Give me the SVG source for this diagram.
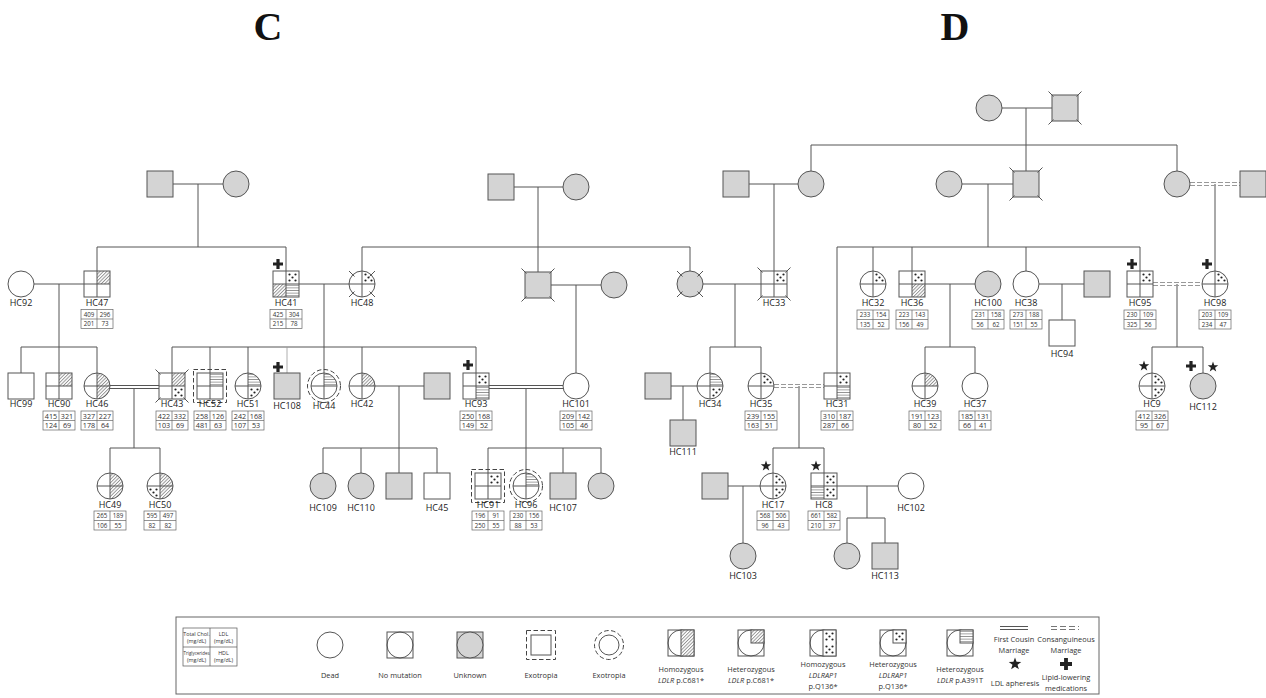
<svg xmlns="http://www.w3.org/2000/svg" xmlns:xlink="http://www.w3.org/1999/xlink" width="1266" height="698" viewBox="0 0 1266 698">
<style>
.w{fill:#fff;stroke:none}
.o{fill:none;stroke:#555;stroke-width:1}
.ln{fill:none;stroke:#555;stroke-width:1}
.gf{fill:#d4d4d4;stroke:#555;stroke-width:1}
.wf{fill:#fff;stroke:#555;stroke-width:1}
.dsh{fill:none;stroke:#444;stroke-width:1;stroke-dasharray:4.5 2.5}
.cons{fill:none;stroke:#999;stroke-width:1;stroke-dasharray:5 2}
.lbl{font-family:"Open Sans","Noto Sans",sans-serif;font-size:9px;fill:#222;text-anchor:middle}
.n1{font-family:"Open Sans","Noto Sans",sans-serif;font-size:6.2px;fill:#333;text-anchor:middle}
.n2{font-family:"Open Sans","Noto Sans",sans-serif;font-size:7.2px;fill:#333;text-anchor:middle}
.lg{font-family:"Open Sans","Noto Sans",sans-serif;font-size:7.4px;fill:#333;text-anchor:middle}
.lt{font-family:"Open Sans","Noto Sans",sans-serif;font-size:5.4px;fill:#333;text-anchor:middle}
.big{font-family:"Liberation Serif","Times New Roman",serif;font-size:40px;font-weight:bold;fill:#111;text-anchor:middle}
.mk{fill:#222}
</style>
<defs>
<pattern id="hatch" patternUnits="userSpaceOnUse" width="2.4" height="2.4" patternTransform="rotate(45)"><line x1="0.5" y1="0" x2="0.5" y2="2.4" stroke="#555" stroke-width="0.6"/></pattern>
<pattern id="dots" patternUnits="userSpaceOnUse" x="0" y="0" width="13" height="13"><g fill="#222"><circle cx="3.5" cy="3.5" r="1.1"/><circle cx="9.5" cy="3.5" r="1.1"/><circle cx="6.5" cy="6.5" r="1.1"/><circle cx="3.5" cy="9.5" r="1.1"/><circle cx="9.5" cy="9.5" r="1.1"/></g></pattern>
<pattern id="hl" patternUnits="userSpaceOnUse" x="0" y="0" width="13" height="2.6"><line x1="0" y1="1.3" x2="13" y2="1.3" stroke="#555" stroke-width="0.6"/></pattern>
<circle id="circ" r="13"/>
<rect id="sq" x="-13" y="-13" width="26" height="26"/>
<path id="c-tr" d="M0,0V-13A13,13 0 0 1 13,0Z"/>
<path id="c-br" d="M0,0H13A13,13 0 0 1 0,13Z"/>
<path id="c-bl" d="M0,0V13A13,13 0 0 1 -13,0Z"/>
<path id="c-rh" d="M0,-13A13,13 0 0 1 0,13Z"/>
<rect id="s-tr" x="0" y="-13" width="13" height="13"/>
<rect id="s-br" x="0" y="0" width="13" height="13"/>
<rect id="s-bl" x="-13" y="0" width="13" height="13"/>
<rect id="s-rh" x="0" y="-13" width="13" height="26"/>
<path id="cross" d="M-13,0H13M0,-13V13"/>
<path id="dead-s" d="M-11.5,-11.5L-16.5,-16.5M11.5,-11.5L16.5,-16.5M-11.5,11.5L-16.5,16.5M11.5,11.5L16.5,16.5"/>
<path id="dead-c" d="M-7.5,-7.5L-13,-13M7.5,-7.5L13,-13M-7.5,7.5L-13,13M7.5,7.5L13,13"/>
<rect id="exo-s" x="-16.5" y="-16.5" width="33" height="33"/>
<circle id="exo-c" r="16.5"/>
<g id="tbl"><rect x="-16" y="0" width="32" height="19" fill="#fff" stroke="#666" stroke-width="0.7"/><path d="M0,0V19M-16,9.5H16" stroke="#666" stroke-width="0.7"/></g>
<path id="plus" d="M-1.6,-5H1.6V-1.6H5V1.6H1.6V5H-1.6V1.6H-5V-1.6H-1.6Z"/>
<path id="star" d="M0,-5.5L1.29,-1.78L5.23,-1.7L2.09,0.68L3.23,4.45L0,2.2L-3.23,4.45L-2.09,0.68L-5.23,-1.7L-1.29,-1.78Z"/>
</defs>
<rect width="1266" height="698" fill="#fff"/>
<text class="big" x="268" y="40">C</text>
<text class="big" x="955" y="40">D</text>

<g id="connectors">
<path class="ln" d="M173,184H223M198,184V247M97,247H286M97,247V271M286,247V271
M34,284H84M59,284V347M21,347H97M21,347V373M59,347V373M97,347V373
M134,388V448M110,448H160M110,448V473M160,448V473
M299,284H349M324,284V347M172,347H476M172,347V373M210,347V373M248,347V373M324,347V373M362,347V373M476,347V373
M375,386H424M399,386V448M323,448H437M323,448V473M361,448V473M399,448V473M437,448V473
M514,187H563M538,187V272M362,247H690M362,247V271M690,247V271
M551,285H601M576,285V373
M526,388V448M488,448H601M488,448V473M526,448V473M563,448V473M601,448V473
M703,284H761M735,284V347M710,347H761M710,347V373M761,347V373
M749,184H798M774,184V271M811,171V145M811,145H1177M1177,145V171
M1002,108H1052M1026,108V171
M962,184H1013M988,184V247M837,247H1140M837,247V373M873,247V271M912,247V271M1026,247V271M1140,247V271
M1215,184V271
M925,284H975M950,284V347M925,347H975M925,347V373M975,347V373
M1039,284H1084M1062,284V320
M1177,284V347M1152,347H1203M1152,347V373M1203,347V373
M671,386H697M683,386V420
M799,386V448M773,448H824M773,448V473M824,448V473
M728,486H760M743,486V543
M837,486H898M867,486V518M847,518H885M847,518V543M885,518V543"/>
<path d="M287,347V373" fill="none" stroke="#999" stroke-width="0.8"/>
<path class="ln" d="M110,385.5H159M110,388.5H159M489,385.5H563M489,388.5H563"/>
<path class="cons" d="M1190,182.5H1240M1190,185.5H1240M1153,282.5H1202M1153,285.5H1202M774,384.5H824M774,387.5H824"/>
</g>

<!-- C family -->
<g id="C-I-1" transform="translate(160,184)"><use href="#sq" class="gf"/></g>
<g id="C-I-2" transform="translate(236,184)"><use href="#circ" class="gf"/></g>
<g id="C-I-3" transform="translate(501,187)"><use href="#sq" class="gf"/></g>
<g id="C-I-4" transform="translate(576,187)"><use href="#circ" class="gf"/></g>

<g id="HC92" transform="translate(21,284)"><use href="#circ" class="wf"/><text class="lbl" y="22">HC92</text></g>
<g id="HC47" transform="translate(97,284)"><use href="#sq" class="w"/><use href="#s-tr" fill="url(#hatch)"/><use href="#cross" class="ln"/><use href="#sq" class="o"/><text class="lbl" y="22">HC47</text>
<use href="#tbl" y="25.5"/><text class="n1" x="-8" y="32.7">409</text><text class="n1" x="8" y="32.7">296</text><text class="n1" x="-8" y="42.2">201</text><text class="n1" x="8" y="42.2">73</text></g>
<g id="HC41" transform="translate(286,284)"><use href="#sq" class="w"/><use href="#s-tr" fill="url(#dots)"/><use href="#s-bl" fill="url(#hatch)"/><use href="#s-br" fill="url(#hl)"/><use href="#cross" class="ln"/><use href="#sq" class="o"/><use href="#plus" class="mk" x="-8" y="-20"/><text class="lbl" y="22">HC41</text>
<use href="#tbl" y="25.5"/><text class="n1" x="-8" y="32.7">425</text><text class="n1" x="8" y="32.7">304</text><text class="n1" x="-8" y="42.2">215</text><text class="n1" x="8" y="42.2">78</text></g>
<g id="HC48" transform="translate(362,284)"><use href="#circ" class="w"/><use href="#c-tr" fill="url(#dots)"/><use href="#cross" class="ln"/><use href="#circ" class="o"/><use href="#dead-c" class="ln"/><text class="lbl" y="22">HC48</text></g>
<g id="C-II-1" transform="translate(538,285)"><use href="#sq" class="gf"/><use href="#dead-s" class="ln"/></g>
<g id="C-II-2" transform="translate(614,285)"><use href="#circ" class="gf"/></g>

<g id="HC99" transform="translate(21,386)"><use href="#sq" class="wf"/><text class="lbl" y="21">HC99</text></g>
<g id="HC90" transform="translate(59,386)"><use href="#sq" class="w"/><use href="#s-tr" fill="url(#hatch)"/><use href="#cross" class="ln"/><use href="#sq" class="o"/><text class="lbl" y="21">HC90</text>
<use href="#tbl" y="25"/><text class="n2" x="-8" y="32.6">415</text><text class="n2" x="8" y="32.6">321</text><text class="n2" x="-8" y="42.1">124</text><text class="n2" x="8" y="42.1">69</text></g>
<g id="HC46" transform="translate(97,386)"><use href="#circ" class="w"/><use href="#c-rh" fill="url(#hatch)"/><use href="#cross" class="ln"/><use href="#circ" class="o"/><text class="lbl" y="21">HC46</text>
<use href="#tbl" y="25"/><text class="n2" x="-8" y="32.6">327</text><text class="n2" x="8" y="32.6">227</text><text class="n2" x="-8" y="42.1">178</text><text class="n2" x="8" y="42.1">64</text></g>
<g id="HC43" transform="translate(172,386)"><use href="#sq" class="w"/><use href="#s-tr" fill="url(#hatch)"/><use href="#s-br" fill="url(#dots)"/><use href="#cross" class="ln"/><use href="#sq" class="o"/><use href="#dead-s" class="ln"/><text class="lbl" y="21">HC43</text>
<use href="#tbl" y="25"/><text class="n2" x="-8" y="32.6">422</text><text class="n2" x="8" y="32.6">332</text><text class="n2" x="-8" y="42.1">103</text><text class="n2" x="8" y="42.1">69</text></g>
<g id="HC52" transform="translate(210,386)"><use href="#sq" class="w"/><use href="#s-tr" fill="url(#hl)"/><use href="#cross" class="ln"/><use href="#sq" class="o"/><use href="#exo-s" class="dsh"/><text class="lbl" y="21">HC52</text>
<use href="#tbl" y="25"/><text class="n2" x="-8" y="32.6">258</text><text class="n2" x="8" y="32.6">126</text><text class="n2" x="-8" y="42.1">481</text><text class="n2" x="8" y="42.1">63</text></g>
<g id="HC51" transform="translate(248,386)"><use href="#circ" class="w"/><use href="#c-tr" fill="url(#hl)"/><use href="#c-br" fill="url(#dots)"/><use href="#cross" class="ln"/><use href="#circ" class="o"/><text class="lbl" y="21">HC51</text>
<use href="#tbl" y="25"/><text class="n2" x="-8" y="32.6">242</text><text class="n2" x="8" y="32.6">168</text><text class="n2" x="-8" y="42.1">107</text><text class="n2" x="8" y="42.1">53</text></g>
<g id="HC108" transform="translate(287,386)"><use href="#sq" class="gf"/><use href="#plus" class="mk" x="-9" y="-19"/><text class="lbl" y="23">HC108</text></g>
<g id="HC44" transform="translate(324,386)"><use href="#circ" class="w"/><use href="#c-tr" fill="url(#hl)"/><use href="#cross" class="ln"/><use href="#circ" class="o"/><use href="#exo-c" class="dsh"/><text class="lbl" y="23">HC44</text></g>
<g id="HC42" transform="translate(362,386)"><use href="#circ" class="w"/><use href="#c-tr" fill="url(#hatch)"/><use href="#cross" class="ln"/><use href="#circ" class="o"/><text class="lbl" y="21">HC42</text></g>
<g id="C-III-1" transform="translate(437,386)"><use href="#sq" class="gf"/></g>
<g id="HC93" transform="translate(476,386)"><use href="#sq" class="w"/><use href="#s-tr" fill="url(#dots)"/><use href="#s-br" fill="url(#hl)"/><use href="#cross" class="ln"/><use href="#sq" class="o"/><use href="#plus" class="mk" x="-8" y="-21"/><text class="lbl" y="21">HC93</text>
<use href="#tbl" y="25"/><text class="n2" x="-8" y="32.6">250</text><text class="n2" x="8" y="32.6">168</text><text class="n2" x="-8" y="42.1">149</text><text class="n2" x="8" y="42.1">52</text></g>
<g id="HC101" transform="translate(576,386)"><use href="#circ" class="wf"/><text class="lbl" y="21">HC101</text>
<use href="#tbl" y="25"/><text class="n2" x="-8" y="32.6">209</text><text class="n2" x="8" y="32.6">142</text><text class="n2" x="-8" y="42.1">105</text><text class="n2" x="8" y="42.1">46</text></g>

<g id="HC49" transform="translate(110,486)"><use href="#circ" class="w"/><use href="#c-rh" fill="url(#hatch)"/><use href="#cross" class="ln"/><use href="#circ" class="o"/><text class="lbl" y="21.5">HC49</text>
<use href="#tbl" y="25"/><text class="n1" x="-8" y="32.4">265</text><text class="n1" x="8" y="32.4">189</text><text class="n1" x="-8" y="41.9">106</text><text class="n1" x="8" y="41.9">55</text></g>
<g id="HC50" transform="translate(160,486)"><use href="#circ" class="w"/><use href="#c-rh" fill="url(#hatch)"/><use href="#c-bl" fill="url(#dots)"/><use href="#cross" class="ln"/><use href="#circ" class="o"/><text class="lbl" y="21.5">HC50</text>
<use href="#tbl" y="25"/><text class="n1" x="-8" y="32.4">595</text><text class="n1" x="8" y="32.4">497</text><text class="n1" x="-8" y="41.9">82</text><text class="n1" x="8" y="41.9">82</text></g>
<g id="HC109" transform="translate(323,486)"><use href="#circ" class="gf"/><text class="lbl" y="25">HC109</text></g>
<g id="HC110" transform="translate(361,486)"><use href="#circ" class="gf"/><text class="lbl" y="25">HC110</text></g>
<g id="C-IV-1" transform="translate(399,486)"><use href="#sq" class="gf"/></g>
<g id="HC45" transform="translate(437,486)"><use href="#sq" class="wf"/><text class="lbl" y="25">HC45</text></g>
<g id="HC91" transform="translate(488,486)"><use href="#sq" class="w"/><use href="#s-tr" fill="url(#dots)"/><use href="#cross" class="ln"/><use href="#sq" class="o"/><use href="#exo-s" class="dsh"/><text class="lbl" y="21.5">HC91</text>
<use href="#tbl" y="25"/><text class="n1" x="-8" y="32.4">196</text><text class="n1" x="8" y="32.4">91</text><text class="n1" x="-8" y="41.9">250</text><text class="n1" x="8" y="41.9">55</text></g>
<g id="HC96" transform="translate(526,486)"><use href="#circ" class="w"/><use href="#c-tr" fill="url(#hl)"/><use href="#cross" class="ln"/><use href="#circ" class="o"/><use href="#exo-c" class="dsh"/><text class="lbl" y="21.5">HC96</text>
<use href="#tbl" y="25"/><text class="n1" x="-8" y="32.4">230</text><text class="n1" x="8" y="32.4">156</text><text class="n1" x="-8" y="41.9">88</text><text class="n1" x="8" y="41.9">53</text></g>
<g id="HC107" transform="translate(563,486)"><use href="#sq" class="gf"/><text class="lbl" y="25">HC107</text></g>
<g id="C-IV-2" transform="translate(601,486)"><use href="#circ" class="gf"/></g>

<!-- D family -->
<g id="D-I-1" transform="translate(989,108)"><use href="#circ" class="gf"/></g>
<g id="D-I-2" transform="translate(1065,108)"><use href="#sq" class="gf"/><use href="#dead-s" class="ln"/></g>
<g id="D-II-1" transform="translate(736,184)"><use href="#sq" class="gf"/></g>
<g id="D-II-2" transform="translate(811,184)"><use href="#circ" class="gf"/></g>
<g id="D-II-3" transform="translate(949,184)"><use href="#circ" class="gf"/></g>
<g id="D-II-4" transform="translate(1026,184)"><use href="#sq" class="gf"/><use href="#dead-s" class="ln"/></g>
<g id="D-II-5" transform="translate(1177,184)"><use href="#circ" class="gf"/></g>
<g id="D-II-6" transform="translate(1253,184)"><use href="#sq" class="gf"/></g>

<g id="D-III-1" transform="translate(690,284)"><use href="#circ" class="gf"/><use href="#dead-c" class="ln"/></g>
<g id="HC33" transform="translate(774,284)"><use href="#sq" class="w"/><use href="#s-tr" fill="url(#dots)"/><use href="#cross" class="ln"/><use href="#sq" class="o"/><use href="#dead-s" class="ln"/><text class="lbl" y="22">HC33</text></g>
<g id="HC32" transform="translate(873,284)"><use href="#circ" class="w"/><use href="#c-tr" fill="url(#dots)"/><use href="#cross" class="ln"/><use href="#circ" class="o"/><text class="lbl" y="22">HC32</text>
<use href="#tbl" y="26"/><text class="n1" x="-8" y="33.2">233</text><text class="n1" x="8" y="33.2">154</text><text class="n1" x="-8" y="42.7">135</text><text class="n1" x="8" y="42.7">52</text></g>
<g id="HC36" transform="translate(912,284)"><use href="#sq" class="w"/><use href="#s-tr" fill="url(#dots)"/><use href="#s-br" fill="url(#hatch)"/><use href="#cross" class="ln"/><use href="#sq" class="o"/><text class="lbl" y="22">HC36</text>
<use href="#tbl" y="26"/><text class="n1" x="-8" y="33.2">223</text><text class="n1" x="8" y="33.2">143</text><text class="n1" x="-8" y="42.7">156</text><text class="n1" x="8" y="42.7">49</text></g>
<g id="HC100" transform="translate(988,284)"><use href="#circ" class="gf"/><text class="lbl" y="22">HC100</text>
<use href="#tbl" y="26"/><text class="n1" x="-8" y="33.2">231</text><text class="n1" x="8" y="33.2">158</text><text class="n1" x="-8" y="42.7">56</text><text class="n1" x="8" y="42.7">62</text></g>
<g id="HC38" transform="translate(1026,284)"><use href="#circ" class="wf"/><text class="lbl" y="22">HC38</text>
<use href="#tbl" y="26"/><text class="n1" x="-8" y="33.2">273</text><text class="n1" x="8" y="33.2">188</text><text class="n1" x="-8" y="42.7">151</text><text class="n1" x="8" y="42.7">55</text></g>
<g id="D-III-2" transform="translate(1097,284)"><use href="#sq" class="gf"/></g>
<g id="HC94" transform="translate(1062,333)"><use href="#sq" class="wf"/><text class="lbl" y="24">HC94</text></g>
<g id="HC95" transform="translate(1140,284)"><use href="#sq" class="w"/><use href="#s-tr" fill="url(#dots)"/><use href="#cross" class="ln"/><use href="#sq" class="o"/><use href="#plus" class="mk" x="-8" y="-20"/><text class="lbl" y="22">HC95</text>
<use href="#tbl" y="26"/><text class="n1" x="-8" y="33.2">230</text><text class="n1" x="8" y="33.2">109</text><text class="n1" x="-8" y="42.7">325</text><text class="n1" x="8" y="42.7">56</text></g>
<g id="HC98" transform="translate(1215,284)"><use href="#circ" class="w"/><use href="#c-tr" fill="url(#dots)"/><use href="#cross" class="ln"/><use href="#circ" class="o"/><use href="#plus" class="mk" x="-8" y="-20"/><text class="lbl" y="22">HC98</text>
<use href="#tbl" y="26"/><text class="n1" x="-8" y="33.2">203</text><text class="n1" x="8" y="33.2">109</text><text class="n1" x="-8" y="42.7">234</text><text class="n1" x="8" y="42.7">47</text></g>

<g id="D-IV-1" transform="translate(658,386)"><use href="#sq" class="gf"/></g>
<g id="HC34" transform="translate(710,386)"><use href="#circ" class="w"/><use href="#c-tr" fill="url(#hl)"/><use href="#c-br" fill="url(#dots)"/><use href="#cross" class="ln"/><use href="#circ" class="o"/><text class="lbl" y="21">HC34</text></g>
<g id="HC35" transform="translate(761,386)"><use href="#circ" class="w"/><use href="#c-tr" fill="url(#dots)"/><use href="#cross" class="ln"/><use href="#circ" class="o"/><text class="lbl" y="21">HC35</text>
<use href="#tbl" y="25"/><text class="n2" x="-8" y="32.6">239</text><text class="n2" x="8" y="32.6">155</text><text class="n2" x="-8" y="42.1">163</text><text class="n2" x="8" y="42.1">51</text></g>
<g id="HC31" transform="translate(837,386)"><use href="#sq" class="w"/><use href="#s-tr" fill="url(#dots)"/><use href="#s-br" fill="url(#hl)"/><use href="#cross" class="ln"/><use href="#sq" class="o"/><text class="lbl" y="21">HC31</text>
<use href="#tbl" y="25"/><text class="n2" x="-8" y="32.6">310</text><text class="n2" x="8" y="32.6">187</text><text class="n2" x="-8" y="42.1">287</text><text class="n2" x="8" y="42.1">66</text></g>
<g id="HC39" transform="translate(925,386)"><use href="#circ" class="w"/><use href="#c-tr" fill="url(#hatch)"/><use href="#cross" class="ln"/><use href="#circ" class="o"/><text class="lbl" y="20.5">HC39</text>
<use href="#tbl" y="25"/><text class="n2" x="-8" y="32.6">191</text><text class="n2" x="8" y="32.6">123</text><text class="n2" x="-8" y="42.1">80</text><text class="n2" x="8" y="42.1">52</text></g>
<g id="HC37" transform="translate(975,386)"><use href="#circ" class="wf"/><text class="lbl" y="20.5">HC37</text>
<use href="#tbl" y="25"/><text class="n2" x="-8" y="32.6">185</text><text class="n2" x="8" y="32.6">131</text><text class="n2" x="-8" y="42.1">66</text><text class="n2" x="8" y="42.1">41</text></g>
<g id="HC9" transform="translate(1152,386)"><use href="#circ" class="w"/><use href="#c-rh" fill="url(#dots)"/><use href="#cross" class="ln"/><use href="#circ" class="o"/><use href="#star" class="mk" x="-8" y="-20"/><text class="lbl" y="20.5">HC9</text>
<use href="#tbl" y="25"/><text class="n2" x="-8" y="32.6">412</text><text class="n2" x="8" y="32.6">326</text><text class="n2" x="-8" y="42.1">95</text><text class="n2" x="8" y="42.1">67</text></g>
<g id="HC112" transform="translate(1203,386)"><use href="#circ" class="gf"/><use href="#plus" class="mk" x="-12" y="-20"/><use href="#star" class="mk" x="10" y="-19"/><text class="lbl" y="24">HC112</text></g>
<g id="HC111" transform="translate(683,433)"><use href="#sq" class="gf"/><text class="lbl" y="22">HC111</text></g>

<g id="D-V-1" transform="translate(715,486)"><use href="#sq" class="gf"/></g>
<g id="HC17" transform="translate(773,486)"><use href="#circ" class="w"/><use href="#c-rh" fill="url(#dots)"/><use href="#cross" class="ln"/><use href="#circ" class="o"/><use href="#star" class="mk" x="-7" y="-20"/><text class="lbl" y="21.5">HC17</text>
<use href="#tbl" y="25"/><text class="n1" x="-8" y="32.4">568</text><text class="n1" x="8" y="32.4">506</text><text class="n1" x="-8" y="41.9">96</text><text class="n1" x="8" y="41.9">43</text></g>
<g id="HC8" transform="translate(824,486)"><use href="#sq" class="w"/><use href="#s-rh" fill="url(#dots)"/><use href="#s-bl" fill="url(#hl)"/><use href="#cross" class="ln"/><use href="#sq" class="o"/><use href="#star" class="mk" x="-8" y="-20"/><text class="lbl" y="21.5">HC8</text>
<use href="#tbl" y="25"/><text class="n1" x="-8" y="32.4">661</text><text class="n1" x="8" y="32.4">582</text><text class="n1" x="-8" y="41.9">210</text><text class="n1" x="8" y="41.9">37</text></g>
<g id="HC102" transform="translate(911,486)"><use href="#circ" class="wf"/><text class="lbl" y="25">HC102</text></g>
<g id="HC103" transform="translate(743,556)"><use href="#circ" class="gf"/><text class="lbl" y="23">HC103</text></g>
<g id="D-VI-1" transform="translate(847,556)"><use href="#circ" class="gf"/></g>
<g id="HC113" transform="translate(885,556)"><use href="#sq" class="gf"/><text class="lbl" y="23">HC113</text></g>

<!-- Legend -->
<g id="legend">
<rect x="176" y="617" width="923" height="77" fill="#fff" stroke="#666" stroke-width="1"/>
<g id="lg-table">
<rect x="183" y="628" width="54" height="38" fill="#fff" stroke="#555" stroke-width="0.7"/>
<path d="M210,628V666M183,647H237" stroke="#555" stroke-width="0.7"/>
<text class="lt" x="196.5" y="635.5">Total Chol.</text><text class="lt" x="196.5" y="642.5">(mg/dL)</text>
<text class="lt" x="223.5" y="635.5">LDL</text><text class="lt" x="223.5" y="642.5">(mg/dL)</text>
<text class="lt" x="196.5" y="654.5" textLength="26" lengthAdjust="spacingAndGlyphs">Triglycerides</text><text class="lt" x="196.5" y="661.5">(mg/dL)</text>
<text class="lt" x="223.5" y="654.5">HDL</text><text class="lt" x="223.5" y="661.5">(mg/dL)</text>
</g>
<g id="lg-dead" transform="translate(330,645)"><use href="#circ" class="wf"/><text class="lg" y="32.5">Dead</text></g>
<g id="lg-nomut" transform="translate(400,645)"><use href="#sq" class="wf"/><use href="#circ" class="o"/><text class="lg" y="32.5">No mutation</text></g>
<g id="lg-unknown" transform="translate(470,645)"><use href="#sq" class="gf"/><use href="#circ" class="gf"/><text class="lg" y="32.5">Unknown</text></g>
<g id="lg-exo-s" transform="translate(541,645)"><rect x="-10" y="-10" width="20" height="20" class="wf"/><rect x="-14.5" y="-14.5" width="29" height="29" class="dsh"/><text class="lg" y="32.5">Exotropia</text></g>
<g id="lg-exo-c" transform="translate(609,645)"><circle r="10" class="wf"/><circle r="14.5" class="dsh"/><text class="lg" y="32.5">Exotropia</text></g>
<g id="lg-homo-ldlr" transform="translate(681,643)"><use href="#sq" class="wf"/><use href="#circ" class="o"/><use href="#s-rh" class="wf"/><use href="#s-rh" fill="url(#hatch)"/><text class="lg" y="28.5">Homozygous</text><text class="lg" y="39.5"><tspan font-style="italic">LDLR</tspan> p.C681*</text></g>
<g id="lg-het-ldlr" transform="translate(751,643)"><use href="#sq" class="wf"/><use href="#circ" class="o"/><use href="#s-tr" class="wf"/><use href="#s-tr" fill="url(#hatch)"/><text class="lg" y="28.5">Heterozygous</text><text class="lg" y="39.5"><tspan font-style="italic">LDLR</tspan> p.C681*</text></g>
<g id="lg-homo-ap1" transform="translate(823,643)"><use href="#sq" class="wf"/><use href="#circ" class="o"/><use href="#s-rh" class="wf"/><use href="#s-rh" fill="url(#dots)"/><text class="lg" y="23.5">Homozygous</text><text class="lg" y="34.5" font-style="italic">LDLRAP1</text><text class="lg" y="45.5">p.Q136*</text></g>
<g id="lg-het-ap1" transform="translate(893,643)"><use href="#sq" class="wf"/><use href="#circ" class="o"/><use href="#s-tr" class="wf"/><use href="#s-tr" fill="url(#dots)"/><text class="lg" y="23.5">Heterozygous</text><text class="lg" y="34.5" font-style="italic">LDLRAP1</text><text class="lg" y="45.5">p.Q136*</text></g>
<g id="lg-het-a391t" transform="translate(960,643)"><use href="#sq" class="wf"/><use href="#circ" class="o"/><use href="#s-tr" class="wf"/><use href="#s-tr" fill="url(#hl)"/><text class="lg" y="28.5">Heterozygous</text><text class="lg" y="39.5"><tspan font-style="italic">LDLR</tspan> p.A391T</text></g>
<g id="lg-fc"><path class="ln" d="M1000,626.5H1028M1000,629.5H1028"/><text class="lg" x="1014" y="642">First Cousin</text><text class="lg" x="1014" y="653">Marriage</text></g>
<g id="lg-cons"><path d="M1051,626.5H1079M1051,629.5H1079" fill="none" stroke="#777" stroke-width="1" stroke-dasharray="6 3"/><text class="lg" x="1066" y="642">Consanguineous</text><text class="lg" x="1066" y="653">Marriage</text></g>
<g id="lg-star"><use href="#star" class="mk" transform="translate(1015,664) scale(1.2)"/><text class="lg" x="1015" y="686">LDL apheresis</text></g>
<g id="lg-plus"><use href="#plus" class="mk" transform="translate(1066,664) scale(1.2)"/><text class="lg" x="1066" y="680">Lipid-lowering</text><text class="lg" x="1066" y="691">medications</text></g>
</g>
</svg>
